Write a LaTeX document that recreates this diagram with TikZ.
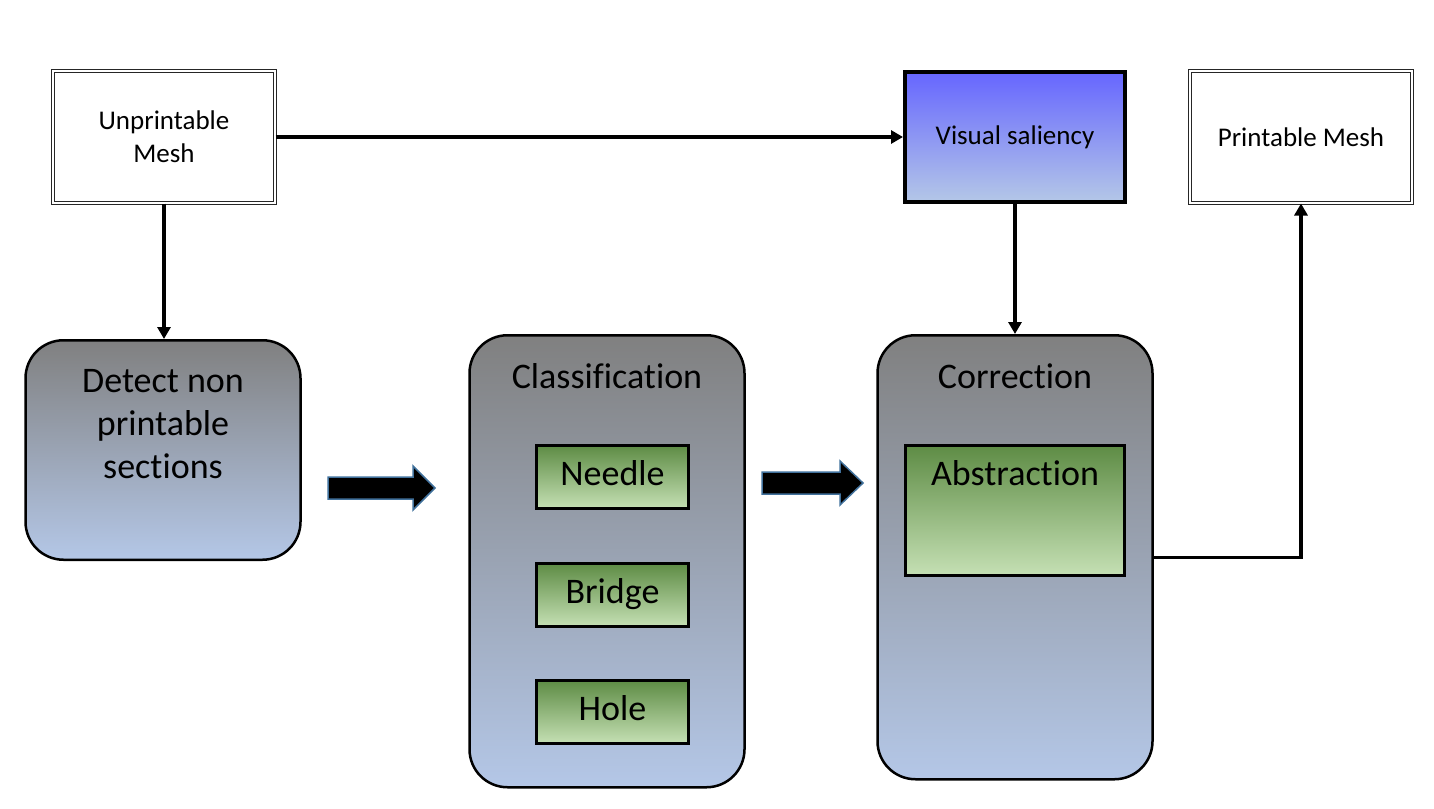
\documentclass[tikz,border=0pt]{standalone}
\usepackage{fontspec}
\setmainfont{Carlito}[RawFeature={-liga;-clig;-dlig;-rlig;-calt;-ccmp}]
\usetikzlibrary{arrows.meta,calc}

\definecolor{paleblue}{HTML}{B4C7E7}
\definecolor{midgray}{HTML}{808080}
\definecolor{salblue}{HTML}{6666FF}
\definecolor{leafgreen}{HTML}{5E8C45}
\definecolor{palegreen}{HTML}{C5E0B4}
\definecolor{arrowrim}{HTML}{41719C}

\tikzset{
  meshbox/.style={draw=black!85, double, double distance=2pt, line width=1pt,
    minimum width=222pt, minimum height=132pt, align=center,
    font=\fontsize{27}{33}\selectfont},
  salbox/.style={draw, line width=4pt, top color=salblue, bottom color=paleblue,
    minimum width=220pt, minimum height=130pt, font=\fontsize{27}{33}\selectfont},
  stagebox/.style={draw, line width=2.5pt, rounded corners=38pt, top color=midgray,
    bottom color=paleblue, minimum width=275pt, inner ysep=0pt, anchor=north,
    font=\fontsize{36}{43}\selectfont},
  kindbox/.style={draw, line width=3pt, top color=leafgreen, bottom color=palegreen,
    minimum width=152pt, minimum height=63pt, text height=26pt, text depth=10pt,
    font=\fontsize{36}{43}\selectfont},
  flow/.style={line width=3.5pt, -{Triangle[length=12pt,width=13pt]}},
  blockarrow/.style={fill=black, draw=arrowrim, line width=1.5pt, line join=miter}
}

\begin{document}
\begin{tikzpicture}[x=1pt,y=-1pt]
\useasboundingbox (0,0) rectangle (1434,808);
%% top row
\node[meshbox] (um) at (164,137) {Unprintable\\Mesh};
\node[salbox] (vs) at (1015,137) {Visual saliency};
\node[meshbox] (pm) at (1301,137) {Printable Mesh};
%% stages
\node[stagebox, text height=52.25pt, text depth=167.25pt] (det) at (163,339)
  {\begin{tabular}[t]{@{}c@{}}Detect non\\printable\\sections\end{tabular}};
\node[stagebox, text height=53.25pt, text depth=398.75pt] (cls) at (607,334) {Classification};
\node[stagebox, text height=53.25pt, text depth=390.75pt] (corr) at (1015,334) {Correction};
\node[kindbox] (needle) at (612.5,477) {Needle};
\node[kindbox] (bridge) at (612.5,595) {Bridge};
\node[kindbox] (hole) at (612.5,712) {Hole};
\node[kindbox, minimum width=219pt, minimum height=0pt, inner ysep=0pt,
  text height=40pt, text depth=90pt, anchor=north] (abs) at (1015,444) {Abstraction};
%% block arrows
\draw[blockarrow] (328,477)--(413,477)--(413,466)--(435,488)--(413,510)--(413,499)--(328,499)--cycle;
\draw[blockarrow] (762,472)--(840,472)--(840,461)--(863,483)--(840,505)--(840,494)--(762,494)--cycle;
%% connectors
\draw[flow] (um.south) -- (um.south |- det.north);
\draw[flow] (um.east) -- (vs.west);
\draw[flow] (vs.south) -- (corr.north);
\draw[flow] (corr.east) -| (pm.south);
\end{tikzpicture}
\end{document}
